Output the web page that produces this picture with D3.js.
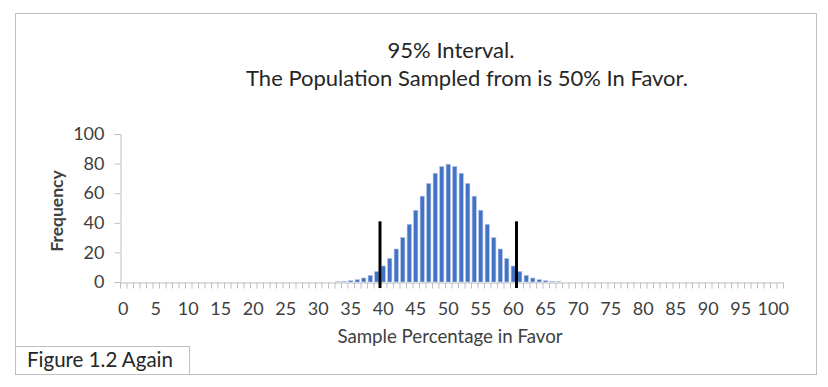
<!DOCTYPE html>
<html>
<head>
<meta charset="utf-8">
<script src="https://cdn.jsdelivr.net/npm/d3@7"></script>
<style>
  body { margin: 0; background: #fff; }
  svg { display: block; font-family: Lato, "Open Sans", sans-serif; }
</style>
</head>
<body>
<script>
var w = 828, h = 387;

// sample percentage categories (Excel axis holds one extra empty slot at the end)
var categories = [];
for (var i = 0; i <= 101; i++) categories.push(i);

// frequency per sample percentage
var freq = [
  0,0,0,0,0,0,0,0,0,0, 0,0,0,0,0,0,0,0,0,0,
  0,0,0,0,0,0,0,0,0,0, 0,0,0,0.2,0.5,0.9,1.6,2.7,4.5,7.1,
  10.8,15.9,22.3,30.1,39.0,48.5,58.0,66.6,73.5,78.0,
  79.6,78.0,73.5,66.6,58.0,48.5,39.0,30.1,22.3,15.9,
  10.8,7.1,4.5,2.7,1.6,0.9,0.5,0.2,0,0,
  0,0,0,0,0,0,0,0,0,0, 0,0,0,0,0,0,0,0,0,0,
  0,0,0,0,0,0,0,0,0,0, 0,0
];

// 95% interval markers
var intervalEdges = [39.5, 60.5];
var intervalHeights = [41, 41];

var yTicks = [0, 20, 40, 60, 80, 100];
var xLabels = [0,5,10,15,20,25,30,35,40,45,50,55,60,65,70,75,80,85,90,95,100];
var titleLines = ["95% Interval.", "The Population Sampled from is 50% In Favor."];

var svg = d3.select("body").append("svg")
  .attr("width", w)
  .attr("height", h);

// outer chart frame
svg.append("rect")
  .attr("x", 15.5).attr("y", 13.5)
  .attr("width", 801).attr("height", 361)
  .attr("fill", "#fff").attr("stroke", "#bfbfbf");

var x = d3.scaleBand()
  .domain(categories)
  .range([120, 783])
  .paddingInner(0.34)
  .paddingOuter(0.17);

var xl = d3.scaleLinear()
  .domain([-0.5, 101.5])
  .range([120, 783]);

var y = d3.scaleLinear()
  .domain([0, 100])
  .range([282, 134]);

// titles
svg.append("text")
  .attr("x", 451).attr("y", 58)
  .attr("text-anchor", "middle")
  .attr("font-size", 22).attr("fill", "#262626")
  .text(titleLines[0]);
svg.append("text")
  .attr("x", 467).attr("y", 86)
  .attr("text-anchor", "middle")
  .attr("font-size", 22).attr("fill", "#262626")
  .text(titleLines[1]);

// y axis
var yAxis = svg.append("g")
  .attr("transform", "translate(120.5,0)")
  .call(d3.axisLeft(y).tickValues(yTicks).tickSize(6).tickPadding(10));
yAxis.select(".domain").attr("stroke", "#bfbfbf");
yAxis.selectAll(".tick line").attr("stroke", "#bfbfbf");
yAxis.selectAll(".tick text")
  .attr("font-family", "Lato").attr("font-size", 18).attr("fill", "#404040");

// x axis tick marks between categories
var boundaries = [];
for (var b = 0; b <= categories.length; b++) boundaries.push(b - 0.5);

var xAxis = svg.append("g")
  .attr("transform", "translate(0,282.5)")
  .call(d3.axisBottom(xl).tickValues(boundaries).tickSize(6).tickFormat("").tickSizeOuter(0));
xAxis.select(".domain").attr("stroke", "#bfbfbf");
xAxis.selectAll(".tick line").attr("stroke", "#bfbfbf");

var xLab = svg.append("g")
  .attr("transform", "translate(0,282)")
  .call(d3.axisBottom(x).tickValues(xLabels).tickSize(0).tickPadding(20));
xLab.select(".domain").remove();
xLab.selectAll(".tick text")
  .attr("font-family", "Lato").attr("font-size", 18).attr("fill", "#404040");

// bars
svg.append("g").selectAll("rect")
  .data(categories)
  .enter().append("rect")
  .attr("x", function(d) { return x(d); })
  .attr("width", x.bandwidth())
  .attr("y", function(d) { return y(freq[d]); })
  .attr("height", function(d) { return y(0) - y(freq[d]); })
  .attr("fill", "#4472c4")
  .attr("stroke", "#b4c7e7")
  .attr("stroke-width", 0.6);

// interval lines
svg.append("g").selectAll("line")
  .data(intervalEdges)
  .enter().append("line")
  .attr("x1", function(d) { return xl(d); })
  .attr("x2", function(d) { return xl(d); })
  .attr("y1", y(0) + 6)
  .attr("y2", function(d, i) { return y(intervalHeights[i]); })
  .attr("stroke", "#000")
  .attr("stroke-width", 3);

// axis titles
svg.append("text")
  .attr("x", 450).attr("y", 343)
  .attr("text-anchor", "middle")
  .attr("font-size", 18.7).attr("fill", "#404040")
  .text("Sample Percentage in Favor");

svg.append("text")
  .attr("transform", "translate(63,211) rotate(-90)")
  .attr("text-anchor", "middle")
  .attr("font-size", 17.5).attr("font-weight", "bold").attr("fill", "#404040")
  .text("Frequency");

// figure label box
svg.append("rect")
  .attr("x", 15.5).attr("y", 346.5)
  .attr("width", 174).attr("height", 28)
  .attr("fill", "#fff").attr("stroke", "#bfbfbf");
svg.append("text")
  .attr("x", 27).attr("y", 367)
  .attr("font-size", 20.5).attr("fill", "#262626")
  .text("Figure 1.2 Again");
</script>
</body>
</html>
